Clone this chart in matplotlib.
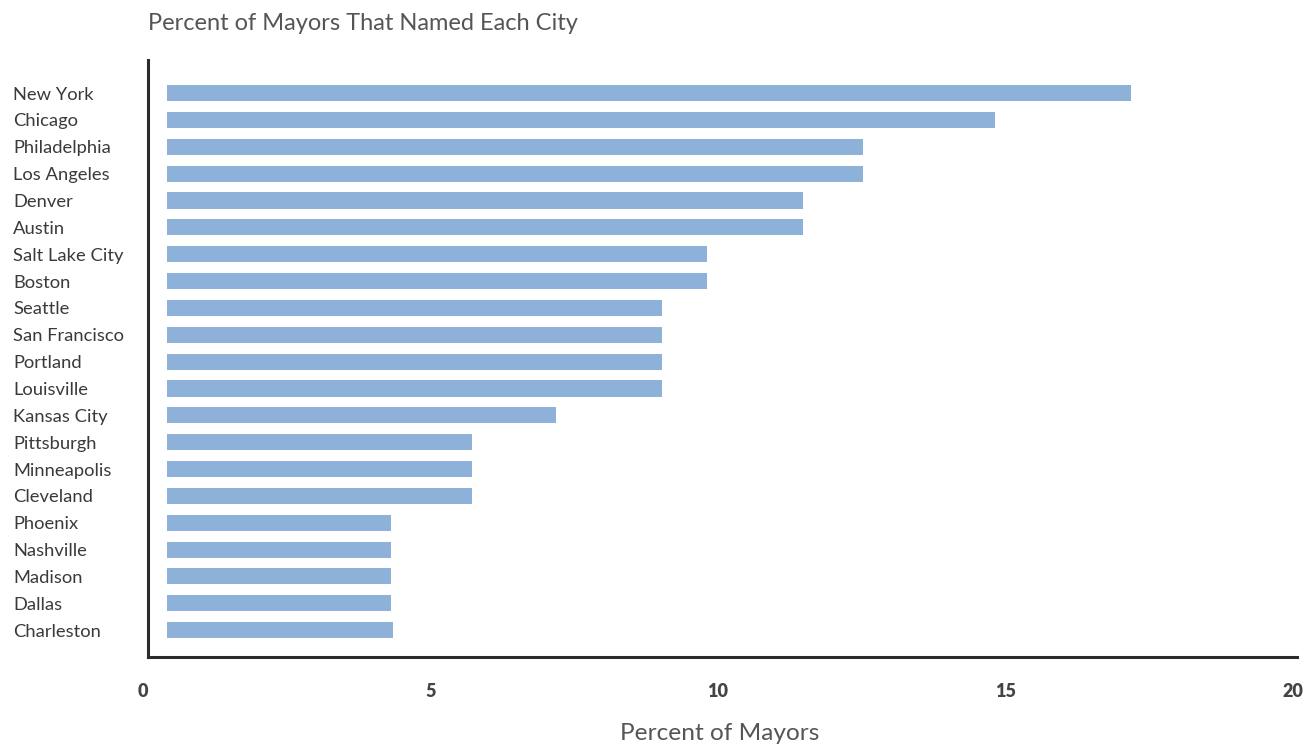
import matplotlib.pyplot as plt
import matplotlib.transforms as mtransforms
import numpy as np

cities = [
    "New York", "Chicago", "Philadelphia", "Los Angeles", "Denver", "Austin",
    "Salt Lake City", "Boston", "Seattle", "San Francisco", "Portland",
    "Louisville", "Kansas City", "Pittsburgh", "Minneapolis", "Cleveland",
    "Phoenix", "Nashville", "Madison", "Dallas", "Charleston",
]
percent = [
    17.18, 14.82, 12.52, 12.52, 11.48, 11.48,
    9.81, 9.81, 9.03, 9.03, 9.03,
    9.03, 7.18, 5.72, 5.72, 5.72,
    4.31, 4.31, 4.31, 4.31, 4.35,
]
x_ticks = [0, 5, 10, 15, 20]

BAR_COLOR = "#8db1d8"
AXIS_COLOR = "#2b2b2b"
TEXT_COLOR = "#3a3a3a"
bar_start = 0.42  # bars begin a little right of the axis line

plt.rcParams["font.family"] = ["Lato", "DejaVu Sans"]

W, H = 1310, 745
fig = plt.figure(figsize=(W / 100, H / 100), dpi=100)
ax = fig.add_axes([143 / W, 1 - 657 / H, (1297 - 143) / W, (657 - 60) / H])

y = np.arange(len(cities))
vals = np.array(percent)
ax.barh(y, vals - bar_start, left=bar_start, height=0.6, color=BAR_COLOR)

ax.set_xlim(0, 20.07)
ax.set_ylim(len(cities) - 1 + 1.0, -1.23)

for side in ("top", "right"):
    ax.spines[side].set_visible(False)
ax.spines["left"].set_position(("data", 0.087))
ax.spines["bottom"].set_bounds(0.087, 20.07)
for side in ("left", "bottom"):
    ax.spines[side].set_color(AXIS_COLOR)
    ax.spines[side].set_linewidth(2.2)

ax.set_yticks([])
ax.set_xticks(x_ticks)
ax.set_xticklabels([str(t) for t in x_ticks], fontsize=13, fontweight="heavy",
                   color="#444444")
ax.tick_params(axis="x", length=0, pad=19)

trans = mtransforms.blended_transform_factory(fig.transFigure, ax.transData)
for yi, name in zip(y, cities):
    ax.text(13 / W, yi, name, transform=trans, ha="left",
            va="center_baseline", fontsize=13.2, color=TEXT_COLOR)

fig.text(148 / W, 1 - 23 / H, "Percent of Mayors That Named Each City",
         ha="left", va="center", fontsize=17.0, color="#555555")
ax.set_xlabel("Percent of Mayors", fontsize=17.6, color="#555555", labelpad=16)

fig.savefig("out.png", dpi=100)
plt.close(fig)
